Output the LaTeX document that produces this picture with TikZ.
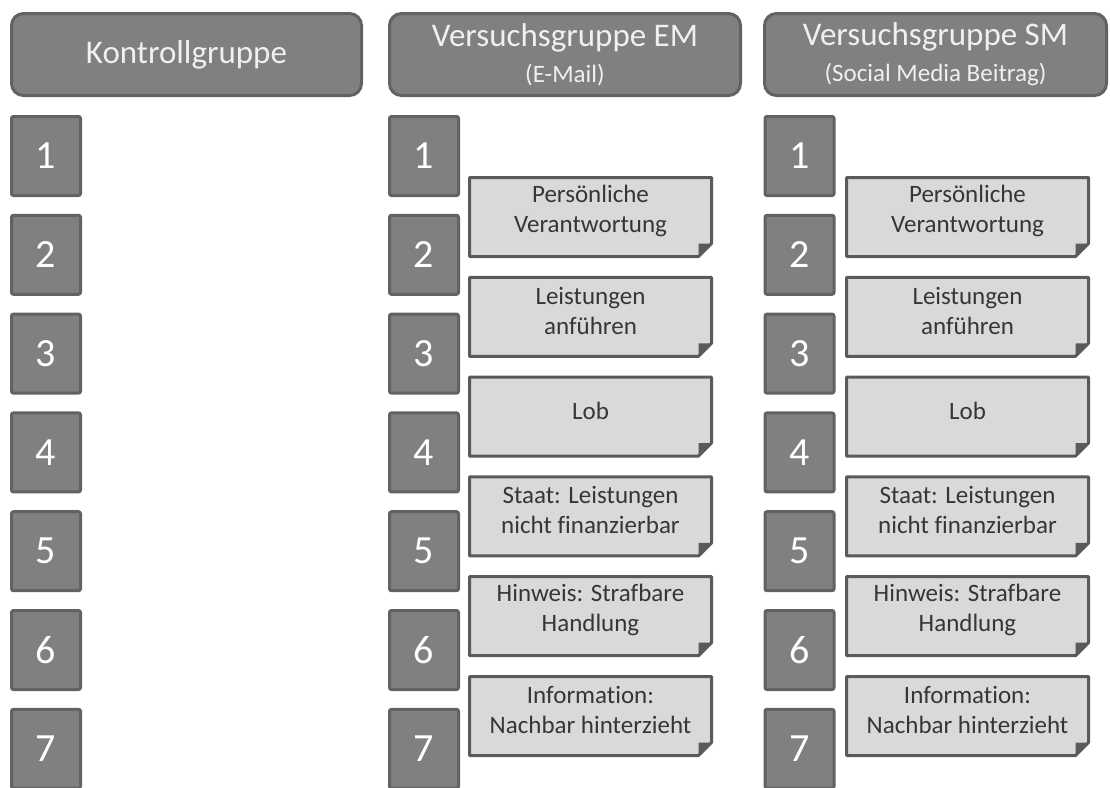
\documentclass[tikz,border=0pt]{standalone}
\usepackage{fontspec}
\setmainfont{Carlito}[Ligatures=NoCommon]
\usetikzlibrary{positioning}

\definecolor{boxgray}{HTML}{808080}
\definecolor{boxline}{HTML}{626262}
\definecolor{notegray}{HTML}{D9D9D9}
\definecolor{noteline}{HTML}{5A5A5A}
\definecolor{notefont}{HTML}{363636}

\begin{document}
\begin{tikzpicture}[x=1pt,y=-1pt,
    group/.style={rectangle,rounded corners=12pt,draw=boxline,line width=3pt,fill=boxgray,text=white!94!black,minimum height=82pt,align=center,font=\fontsize{33}{36}\selectfont},
    num/.style={rectangle,rounded corners=2pt,draw=boxline,line width=3pt,fill=boxgray,text=white,minimum width=69pt,minimum height=79pt,outer sep=0pt,font=\fontsize{40}{48}\selectfont},
    notebox/.style={draw=noteline,line width=3pt,line join=round,fill=notegray},
    note/.style={rectangle,minimum width=242pt,minimum height=79pt,inner sep=0pt,outer sep=0pt,
      append after command={\pgfextra{
        \draw[notebox] (\tikzlastnode.north west) -- (\tikzlastnode.north east) -- ([yshift=13pt]\tikzlastnode.south east) -- ([xshift=-13pt]\tikzlastnode.south east) -- (\tikzlastnode.south west) -- cycle;
        \fill[noteline] ([yshift=13pt]\tikzlastnode.south east) -- ([xshift=-13pt]\tikzlastnode.south east) -- ([shift={(-13pt,13pt)}]\tikzlastnode.south east) -- cycle;}}},
    notetext/.style={align=center,text=notefont,yshift=6pt,font=\fontsize{25}{30}\selectfont},
    node distance=19.8pt]
\useasboundingbox (0,0) rectangle (1110,787);

% Kopfzeilen
\node[group,minimum width=350pt] (kg) at (186.5,54.5) {Kontrollgruppe};
\node[group,minimum width=351pt] (em) at (565,54.5) {Versuchsgruppe EM\\{\fontsize{25}{30}\selectfont (E-Mail)}};
\node[group,minimum width=342pt] (sm) at (935.5,54.5) {Versuchsgruppe SM\\{\fontsize{25}{30}\selectfont (Social Media Beitrag)}};

% Kontrollgruppe
\node[num] (kg1) at (46,156) {1};
\node[num] (kg2) [below=of kg1] {2};
\node[num] (kg3) [below=of kg2] {3};
\node[num] (kg4) [below=of kg3] {4};
\node[num] (kg5) [below=of kg4] {5};
\node[num] (kg6) [below=of kg5] {6};
\node[num] (kg7) [below=of kg6] {7};

% Versuchsgruppe EM
\node[num] (em1) at (424,156) {1};
\node[num] (em2) [below=of em1] {2};
\node[num] (em3) [below=of em2] {3};
\node[num] (em4) [below=of em3] {4};
\node[num] (em5) [below=of em4] {5};
\node[num] (em6) [below=of em5] {6};
\node[num] (em7) [below=of em6] {7};

\node[note,label={[notetext]center:{Persönliche\\Verantwortung}}] (em-pv) at (590.5,217) {};
\node[note,label={[notetext]center:{Leistungen\\anführen}}] (em-la) [below=20.8pt of em-pv] {};
\node[note,label={[notetext]center:{Lob}}] (em-lob) [below=20.8pt of em-la] {};
\node[note,label={[notetext]center:{Staat: Leistungen\\nicht finanzierbar}}] (em-st) [below=20.8pt of em-lob] {};
\node[note,label={[notetext]center:{Hinweis: Strafbare\\Handlung}}] (em-hw) [below=20.8pt of em-st] {};
\node[note,label={[notetext]center:{Information:\\Nachbar hinterzieht}}] (em-inf) [below=20.8pt of em-hw] {};

% Versuchsgruppe SM
\node[num] (sm1) at (799.5,156) {1};
\node[num] (sm2) [below=of sm1] {2};
\node[num] (sm3) [below=of sm2] {3};
\node[num] (sm4) [below=of sm3] {4};
\node[num] (sm5) [below=of sm4] {5};
\node[num] (sm6) [below=of sm5] {6};
\node[num] (sm7) [below=of sm6] {7};

\node[note,label={[notetext]center:{Persönliche\\Verantwortung}}] (sm-pv) at (967.5,217) {};
\node[note,label={[notetext]center:{Leistungen\\anführen}}] (sm-la) [below=20.8pt of sm-pv] {};
\node[note,label={[notetext]center:{Lob}}] (sm-lob) [below=20.8pt of sm-la] {};
\node[note,label={[notetext]center:{Staat: Leistungen\\nicht finanzierbar}}] (sm-st) [below=20.8pt of sm-lob] {};
\node[note,label={[notetext]center:{Hinweis: Strafbare\\Handlung}}] (sm-hw) [below=20.8pt of sm-st] {};
\node[note,label={[notetext]center:{Information:\\Nachbar hinterzieht}}] (sm-inf) [below=20.8pt of sm-hw] {};
\end{tikzpicture}
\end{document}
